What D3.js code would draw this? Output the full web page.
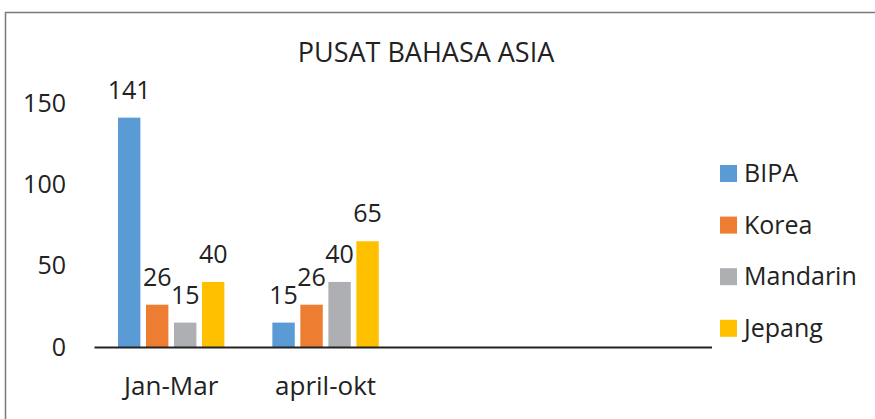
<!DOCTYPE html>
<html>
<head>
<meta charset="utf-8">
<script src="https://cdn.jsdelivr.net/npm/d3@7"></script>
<style>
  body { margin: 0; background: #fff; }
  svg { display: block; font-family: "Open Sans", sans-serif; }
</style>
</head>
<body>
<div id="chart"></div>
<script>
// --- Data ---
const categories = ['Jan-Mar', 'april-okt', '', ''];
const series = ['BIPA', 'Korea', 'Mandarin', 'Jepang'];
const values = {
  BIPA: [141, 15],
  Korea: [26, 26],
  Mandarin: [15, 40],
  Jepang: [40, 65]
};
const yTicks = [0, 50, 100, 150];
const colors = ['#5B9BD5', '#ED7D31', '#AEAFB3', '#FFC000'];

const width = 875, height = 419;
const margin = { left: 94, right: 875 - 711.5, top: 103, bottom: 419 - 347 };

const svg = d3.select('#chart').append('svg')
  .attr('width', width)
  .attr('height', height);

// chart frame
svg.append('rect')
  .attr('x', 5.5).attr('y', 12.5)
  .attr('width', 900).attr('height', 450)
  .attr('fill', 'none')
  .attr('stroke', '#7a7a7a')
  .attr('stroke-width', 1.5);

const x = d3.scaleBand()
  .domain(d3.range(categories.length))
  .range([margin.left, width - margin.right]);

const y = d3.scaleLinear()
  .domain([0, 150])
  .range([height - margin.bottom, margin.top]);

// bars laid out inside each category slot
const x1 = d3.scaleBand()
  .domain(series)
  .range([0, x.bandwidth()])
  .paddingOuter(0.857)
  .paddingInner(0.2);

// title
svg.append('text')
  .attr('x', 426).attr('y', 62)
  .attr('text-anchor', 'middle')
  .attr('font-size', 27)
  .attr('fill', '#222')
  .text('PUSAT BAHASA ASIA');

// y axis labels only (no line, no grid)
const yAxis = svg.append('g')
  .attr('transform', `translate(66,0)`)
  .call(d3.axisLeft(y).tickValues(yTicks).tickSize(0).tickPadding(0));
yAxis.select('.domain').remove();
yAxis.selectAll('text')
  .attr('font-size', 25)
  .attr('font-family', '"Open Sans", sans-serif')
  .attr('fill', '#222');

// bars
const groups = svg.append('g').selectAll('g')
  .data(series)
  .join('g')
  .attr('fill', (d, i) => colors[i]);

groups.selectAll('rect')
  .data(s => values[s].map((v, i) => ({ s, v, i })))
  .join('rect')
  .attr('x', d => x(d.i) + x1(d.s))
  .attr('y', d => y(d.v))
  .attr('width', x1.bandwidth())
  .attr('height', d => y(0) - y(d.v));

// value labels
svg.append('g').selectAll('text')
  .data(series.flatMap(s => values[s].map((v, i) => ({ s, v, i }))))
  .join('text')
  .attr('x', d => x(d.i) + x1(d.s) + x1.bandwidth() / 2)
  .attr('y', d => y(d.v) - 19)
  .attr('text-anchor', 'middle')
  .attr('font-size', 25)
  .attr('fill', '#222')
  .text(d => d.v);

// x axis
const xAxis = svg.append('g')
  .attr('transform', `translate(0,${y(0)})`)
  .call(d3.axisBottom(x).tickSize(0).tickPadding(0).tickFormat(i => categories[i]));
xAxis.select('.domain').attr('stroke', '#222').attr('stroke-width', 2);
xAxis.selectAll('text')
  .attr('dy', 0)
  .attr('y', 48)
  .attr('font-size', 26)
  .attr('font-family', '"Open Sans", sans-serif')
  .attr('fill', '#222');

// legend
const legend = svg.append('g').selectAll('g')
  .data(series)
  .join('g')
  .attr('transform', (d, i) => `translate(720,${165 + i * 51.6})`);
legend.append('rect')
  .attr('width', 17).attr('height', 17)
  .attr('fill', (d, i) => colors[i]);
legend.append('text')
  .attr('x', 24).attr('y', 17)
  .attr('font-size', 25)
  .attr('fill', '#222')
  .text(d => d);
</script>
</body>
</html>
